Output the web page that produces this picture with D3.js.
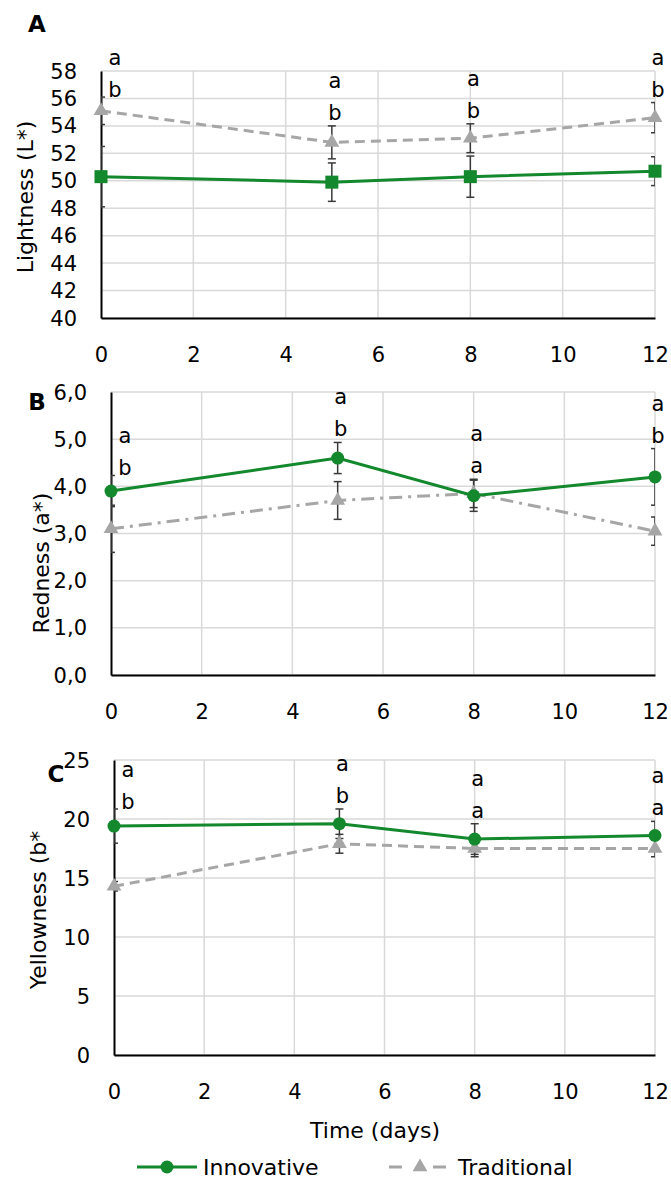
<!DOCTYPE html>
<html lang="en">
<head>
<meta charset="utf-8">
<title>Colour parameters</title>
<script src="https://d3js.org/d3.v7.min.js"></script>
<style>
  body { margin: 0; background: #fff; }
  text { font-family: "DejaVu Sans", sans-serif; fill: #000; }
</style>
</head>
<body>
<script>
// data
const days = [0, 5, 8, 12];
const xTicks = [0, 2, 4, 6, 8, 10, 12];

const lightTicks = [40, 42, 44, 46, 48, 50, 52, 54, 56, 58];
const lightInno = [50.3, 49.9, 50.3, 50.7];
const lightInnoErr = [2.2, 1.4, 1.5, 1.05];
const lightTrad = [55.1, 52.8, 53.1, 54.6];
const lightTradErr = [1.0, 1.2, 1.05, 1.1];
const lightTop = ["a", "a", "a", "a"];
const lightBottom = ["b", "b", "b", "b"];

const redTicks = [0, 1, 2, 3, 4, 5, 6];
const redInno = [3.9, 4.6, 3.8, 4.2];
const redInnoErr = [0.33, 0.33, 0.33, 0.6];
const redTrad = [3.1, 3.7, 3.85, 3.05];
const redTradErr = [0.5, 0.4, 0.3, 0.3];
const redTop = ["a", "a", "a", "a"];
const redBottom = ["b", "b", "a", "b"];

const yelTicks = [0, 5, 10, 15, 20, 25];
const yelInno = [19.4, 19.6, 18.3, 18.6];
const yelInnoErr = [1.45, 1.25, 1.3, 1.2];
const yelTrad = [14.3, 17.9, 17.5, 17.5];
const yelTradErr = [0.4, 0.8, 0.7, 0.7];
const yelTop = ["a", "a", "a", "a"];
const yelBottom = ["b", "b", "a", "a"];

const seriesNames = ["Innovative", "Traditional"];

const green = "#13882c";
const grey = "#a6a6a6";
const errColor = "#3a3a3a";

const W = 671, H = 1180;
const svg = d3.select("body").append("svg")
    .attr("width", W).attr("height", H);

const panels = [
  {id: "A", left: 101, right: 655, top: 71, bottom: 318,
   ticks: lightTicks, fmt: d => d, title: "Lightness (L*)", titleX: 25, titleY: 197,
   tag: [37, 24], marker: "square", tradDash: "10,6",
   inno: lightInno, innoErr: lightInnoErr, trad: lightTrad, tradErr: lightTradErr,
   lettersTop: lightTop, lettersBot: lightBottom},
  {id: "B", left: 111, right: 655, top: 392, bottom: 675,
   ticks: redTicks, fmt: d => d3.format(".1f")(d).replace(".", ","), title: "Redness (a*)", titleX: 41, titleY: 563,
   tag: [37, 402], marker: "circle", tradDash: "13,6,3,6",
   inno: redInno, innoErr: redInnoErr, trad: redTrad, tradErr: redTradErr,
   lettersTop: redTop, lettersBot: redBottom},
  {id: "C", left: 114, right: 655, top: 760, bottom: 1055,
   ticks: yelTicks, fmt: d => d, title: "Yellowness (b*", titleX: 38, titleY: 910,
   tag: [56, 774], marker: "circle", tradDash: "10,6",
   inno: yelInno, innoErr: yelInnoErr, trad: yelTrad, tradErr: yelTradErr,
   lettersTop: yelTop, lettersBot: yelBottom}
];

const tri = d3.symbol().type(d3.symbolTriangle).size(95);

panels.forEach(p => {
  const x = d3.scaleLinear().domain([0, 12]).range([p.left, p.right]);
  const y = d3.scaleLinear().domain([p.ticks[0], p.ticks[p.ticks.length - 1]]).range([p.bottom, p.top]);
  const g = svg.append("g");

  // grid
  g.append("g").selectAll("line").data(p.ticks).enter().append("line")
    .attr("x1", p.left).attr("x2", p.right)
    .attr("y1", d => y(d)).attr("y2", d => y(d))
    .attr("stroke", "#d9d9d9").attr("stroke-width", 1.5);
  g.append("g").selectAll("line").data(xTicks.slice(1)).enter().append("line")
    .attr("x1", d => x(d)).attr("x2", d => x(d))
    .attr("y1", p.top).attr("y2", p.bottom)
    .attr("stroke", "#d9d9d9").attr("stroke-width", 1.5);

  // axes
  const xAxis = g.append("g").attr("transform", "translate(0," + p.bottom + ")")
    .call(d3.axisBottom(x).tickValues(xTicks).tickSize(0).tickPadding(0));
  xAxis.select(".domain").attr("stroke", "#000").attr("stroke-width", 2);
  xAxis.selectAll("text").attr("dy", null).attr("y", 37)
    .attr("dominant-baseline", "central").style("font-size", "21px")
    .style("font-family", "DejaVu Sans");

  const yAxis = g.append("g").attr("transform", "translate(" + p.left + ",0)")
    .call(d3.axisLeft(y).tickValues(p.ticks).tickFormat(p.fmt).tickSize(0).tickPadding(0));
  yAxis.select(".domain").attr("stroke", "#000").attr("stroke-width", 2);
  yAxis.selectAll("text").attr("dy", null).attr("x", -24)
    .attr("dominant-baseline", "central").style("font-size", "21px")
    .style("font-family", "DejaVu Sans");

  // titles
  g.append("text")
    .attr("transform", "translate(" + p.titleX + "," + p.titleY + ") rotate(-90)")
    .attr("text-anchor", "middle").attr("dominant-baseline", "central")
    .style("font-size", "22px").text(p.title);
  g.append("text").attr("x", p.tag[0]).attr("y", p.tag[1])
    .attr("text-anchor", "middle").attr("dominant-baseline", "central")
    .style("font-size", "23px").style("font-weight", "bold").text(p.id);

  // error bars, clipped to plot area like the original
  const clipId = "clip" + p.id;
  svg.append("clipPath").attr("id", clipId).append("rect")
    .attr("x", p.left).attr("y", p.top)
    .attr("width", p.right - p.left).attr("height", p.bottom - p.top);
  const eb = g.append("g").attr("clip-path", "url(#" + clipId + ")");
  const errs = [];
  days.forEach((d, i) => {
    errs.push({d: d, v: p.trad[i], e: p.tradErr[i]});
    errs.push({d: d, v: p.inno[i], e: p.innoErr[i]});
  });
  errs.forEach(e => {
    const cx = x(e.d);
    const y1 = y(e.v + e.e), y2 = y(e.v - e.e);
    eb.append("line").attr("x1", cx).attr("x2", cx).attr("y1", y1).attr("y2", y2)
      .attr("stroke", errColor).attr("stroke-width", 1.5);
    [y1, y2].forEach(yy => eb.append("line")
      .attr("x1", cx - 4).attr("x2", cx + 4).attr("y1", yy).attr("y2", yy)
      .attr("stroke", errColor).attr("stroke-width", 1.5));
  });

  // lines
  const line = d3.line().x((d, i) => x(days[i])).y(d => y(d));
  g.append("path").datum(p.trad).attr("d", line).attr("fill", "none")
    .attr("stroke", grey).attr("stroke-width", 3).attr("stroke-dasharray", p.tradDash);
  g.append("path").datum(p.inno).attr("d", line).attr("fill", "none")
    .attr("stroke", green).attr("stroke-width", 3);

  // markers
  g.selectAll(".tri").data(p.trad).enter().append("path")
    .attr("transform", (d, i) => "translate(" + x(days[i]) + "," + y(d) + ")")
    .attr("d", tri).attr("fill", grey);
  if (p.marker === "square") {
    g.selectAll(".sq").data(p.inno).enter().append("rect")
      .attr("x", (d, i) => x(days[i]) - 6.5).attr("y", d => y(d) - 6.5)
      .attr("width", 13).attr("height", 13).attr("fill", green);
  } else {
    g.selectAll(".dot").data(p.inno).enter().append("circle")
      .attr("cx", (d, i) => x(days[i])).attr("cy", d => y(d))
      .attr("r", 6.5).attr("fill", green);
  }

  // significance letters above the highest error bar
  days.forEach((d, i) => {
    const hi = Math.max(p.inno[i] + p.innoErr[i], p.trad[i] + p.tradErr[i]);
    const lx = x(d) + (d === 0 ? 14 : 3);
    const by = y(hi) - (d === 0 ? 7 : 13);
    g.append("text").attr("x", lx).attr("y", by)
      .attr("text-anchor", "middle").attr("dominant-baseline", "central")
      .style("font-size", "21px").text(p.lettersBot[i]);
    g.append("text").attr("x", lx).attr("y", by - 32)
      .attr("text-anchor", "middle").attr("dominant-baseline", "central")
      .style("font-size", "21px").text(p.lettersTop[i]);
  });
});

// x title
svg.append("text").attr("x", 375).attr("y", 1130)
  .attr("text-anchor", "middle").attr("dominant-baseline", "central")
  .style("font-size", "22px").text("Time (days)");

// legend
const leg = svg.append("g");
leg.append("line").attr("x1", 137).attr("x2", 197).attr("y1", 1167).attr("y2", 1167)
  .attr("stroke", green).attr("stroke-width", 3);
leg.append("circle").attr("cx", 167).attr("cy", 1167).attr("r", 6.5).attr("fill", green);
leg.append("text").attr("x", 203).attr("y", 1167).attr("dominant-baseline", "central")
  .style("font-size", "22px").text(seriesNames[0]);
leg.append("line").attr("x1", 389).attr("x2", 447).attr("y1", 1167).attr("y2", 1167)
  .attr("stroke", grey).attr("stroke-width", 3).attr("stroke-dasharray", "13,31");
leg.append("path").attr("transform", "translate(420,1167)").attr("d", tri).attr("fill", grey);
leg.append("text").attr("x", 458).attr("y", 1167).attr("dominant-baseline", "central")
  .style("font-size", "22px").text(seriesNames[1]);
</script>
</body>
</html>
